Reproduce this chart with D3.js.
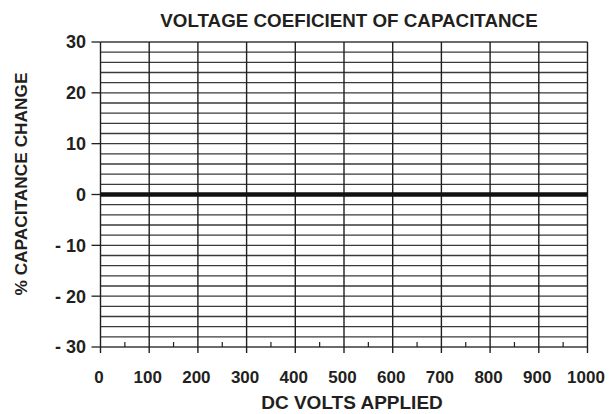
<!DOCTYPE html>
<html><head><meta charset="utf-8">
<script src="https://cdn.jsdelivr.net/npm/d3@7"></script>
<style>body{margin:0;background:#fff}svg{display:block}text{font-family:"Liberation Sans",Arial,sans-serif;font-weight:bold;fill:#231f20}</style>
</head><body><svg id="c" width="616" height="414"></svg>
<script>
const title = "VOLTAGE COEFICIENT OF CAPACITANCE";
const xTitle = "DC VOLTS APPLIED";
const yTitle = "% CAPACITANCE CHANGE";
const xTicks = [0,100,200,300,400,500,600,700,800,900,1000];
const xMinorTicks = [50,150,250,350,450,550,650,750,850,950];
const yTicks = [30,20,10,0,-10,-20,-30];
const yTickLabels = ["30","20","10","0","- 10","- 20","- 30"];
const yGridStep = 2;
const zeroLine = [0];

const svg = d3.select("#c");
const x = d3.scaleLinear().domain([0,1000]).range([100.5,587.5]);
const y = d3.scaleLinear().domain([-30,30]).range([347,42]);
const ink = "#231f20";

// horizontal grid
const yGrid = d3.range(-30, 30 + 0.001, yGridStep);
svg.append("g").selectAll("line").data(yGrid).join("line")
  .attr("x1", x(0)).attr("x2", x(1000))
  .attr("y1", d => y(d)).attr("y2", d => y(d))
  .attr("stroke", "#3a3a3a").attr("stroke-width", 1.3);
// vertical grid
svg.append("g").selectAll("line").data(xTicks).join("line")
  .attr("x1", d => x(d)).attr("x2", d => x(d))
  .attr("y1", y(30)).attr("y2", y(-30) + 6)
  .attr("stroke", ink).attr("stroke-width", 1.4);
// minor ticks on x axis
svg.append("g").selectAll("line").data(xMinorTicks).join("line")
  .attr("x1", d => x(d)).attr("x2", d => x(d))
  .attr("y1", y(-30)).attr("y2", y(-30) - 5)
  .attr("stroke", ink).attr("stroke-width", 1.2);
// y ticks to the left
svg.append("g").selectAll("line").data(yTicks).join("line")
  .attr("x1", x(0) - 9).attr("x2", x(0))
  .attr("y1", d => y(d)).attr("y2", d => y(d))
  .attr("stroke", ink).attr("stroke-width", 1.3);
// zero line
svg.append("g").selectAll("line").data(zeroLine).join("line")
  .attr("x1", x(0)).attr("x2", x(1000))
  .attr("y1", d => y(d)).attr("y2", d => y(d))
  .attr("stroke", "#111").attr("stroke-width", 4.5);
// y labels
svg.append("g").selectAll("text").data(yTicks).join("text")
  .attr("x", 86).attr("y", d => y(d)).attr("dy", "0.36em")
  .attr("text-anchor", "end").attr("font-size", 18)
  .text((d,i) => yTickLabels[i]);
// x labels
svg.append("g").selectAll("text").data(xTicks).join("text")
  .attr("x", d => x(d) - 1.5).attr("y", 383)
  .attr("text-anchor", "middle").attr("font-size", 17)
  .text(d => d);
svg.append("text").attr("x", 349).attr("y", 26.5).attr("text-anchor","middle").attr("font-size",18.8).text(title);
svg.append("text").attr("x", 352).attr("y", 409).attr("text-anchor","middle").attr("font-size",19).text(xTitle);
svg.append("text").attr("transform","translate(27,184) rotate(-90)").attr("text-anchor","middle").attr("font-size",17.3).text(yTitle);
</script></body></html>
